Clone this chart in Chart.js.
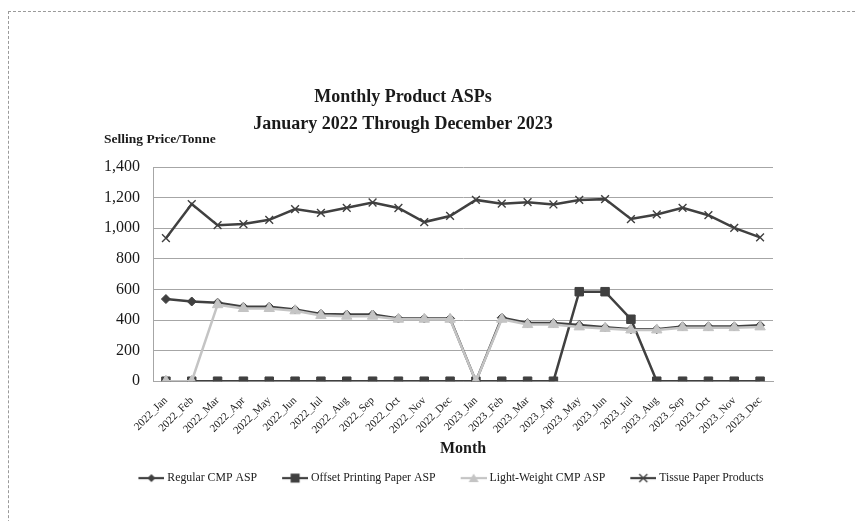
<!DOCTYPE html>
<html>
<head>
<meta charset="utf-8">
<script src="https://cdn.jsdelivr.net/npm/chart.js@4/dist/chart.umd.min.js"></script>
<style>
  html, body { margin: 0; padding: 0; background: #fff; overflow: hidden; }
  #wrap { position: relative; width: 855px; height: 521px; }
  #frame {
    position: absolute; left: 8px; top: 11px; width: 900px; height: 600px;
    border: 1px dashed #9a9a9a; pointer-events: none;
  }
  canvas { position: absolute; left: 0; top: 0; }
</style>
</head>
<body>
<div id="wrap">
  <canvas id="aspChart" width="855" height="521"></canvas>
  <div id="frame"></div>
</div>
<script>
// ------------------------------
// DATA
// ------------------------------

const months = [
  "2022_Jan", "2022_Feb", "2022_Mar", "2022_Apr", "2022_May", "2022_Jun",
  "2022_Jul", "2022_Aug", "2022_Sep", "2022_Oct", "2022_Nov", "2022_Dec",
  "2023_Jan", "2023_Feb", "2023_Mar", "2023_Apr", "2023_May", "2023_Jun",
  "2023_Jul", "2023_Aug", "2023_Sep", "2023_Oct", "2023_Nov", "2023_Dec"
];

const regularCmp = [537, 521, 513, 486, 486, 469, 440, 436, 436, 410, 410, 410,
  0, 415, 380, 380, 367, 352, 339, 340, 358, 358, 358, 365];

const offsetPrinting = [0, 0, 0, 0, 0, 0, 0, 0, 0, 0, 0, 0,
  0, 0, 0, 0, 585, 585, 405, 0, 0, 0, 0, 0];

const lightWeightCmp = [0, 0, 500, 475, 475, 460, 430, 425, 425, 405, 405, 405,
  0, 405, 370, 370, 355, 345, 335, 335, 350, 350, 350, 355];

const tissuePaper = [935, 1158, 1020, 1027, 1055, 1125, 1100, 1133, 1168, 1132, 1040, 1080,
  1185, 1160, 1170, 1155, 1185, 1190, 1060, 1090, 1133, 1085, 1002, 940];

const yTicksMax = 1400;
const yTickStep = 200;

const titleLines = ["Monthly Product ASPs", "January 2022 Through December 2023"];
const yTitle = "Selling Price/Tonne";
const xTitle = "Month";

// ------------------------------
// STYLE
// ------------------------------

const FONT = '"Liberation Serif", "Times New Roman", serif';
const TEXT = "#1a1a1a";
const DARK = "#404040";
const LIGHT = "#c4c4c4";
const GRID = "#a6a6a6";

// legend icon: blank lead-in, then a short line with the marker in the middle
function legendIcon(color, marker) {
  const c = document.createElement("canvas");
  c.width = 54;
  c.height = 12;
  const g = c.getContext("2d");
  const x0 = 28;
  const mid = x0 + 13;
  g.strokeStyle = color;
  g.fillStyle = color;
  g.lineWidth = 2.2;
  g.beginPath();
  g.moveTo(x0, 6);
  g.lineTo(x0 + 26, 6);
  g.stroke();
  g.beginPath();
  if (marker === "diamond") {
    g.moveTo(mid, 2); g.lineTo(mid + 4, 6); g.lineTo(mid, 10); g.lineTo(mid - 4, 6); g.closePath(); g.fill();
  } else if (marker === "square") {
    g.fillRect(mid - 4.5, 1.5, 9, 9);
  } else if (marker === "triangle") {
    g.moveTo(mid, 1.5); g.lineTo(mid + 5, 10); g.lineTo(mid - 5, 10); g.closePath(); g.fill();
  } else if (marker === "cross") {
    g.lineWidth = 1.4;
    g.moveTo(mid - 4, 2); g.lineTo(mid + 4, 10); g.moveTo(mid + 4, 2); g.lineTo(mid - 4, 10); g.stroke();
  }
  return c;
}

const seriesDefs = [
  { label: "Regular CMP ASP", data: regularCmp, color: DARK, style: "rectRot", radius: 4.5, icon: "diamond", order: 4 },
  { label: "Offset Printing Paper ASP", data: offsetPrinting, color: DARK, style: "rect", radius: 6, icon: "square", order: 3 },
  { label: "Light-Weight CMP ASP", data: lightWeightCmp, color: LIGHT, style: "triangle", radius: 6, icon: "triangle", order: 2 },
  { label: "Tissue Paper Products", data: tissuePaper, color: DARK, style: "crossRot", radius: 5.5, icon: "cross", order: 1 }
];

// chart title and the horizontal y-axis caption sit off-centre in the original
const headerText = {
  id: "headerText",
  afterDraw(chart) {
    const { ctx, chartArea } = chart;
    ctx.save();
    ctx.fillStyle = TEXT;
    ctx.textBaseline = "middle";

    ctx.textAlign = "center";
    ctx.font = "bold 18px " + FONT;
    ctx.fillText(titleLines[0], chartArea.left + 250, chartArea.top - 70);
    ctx.fillText(titleLines[1], chartArea.left + 250, chartArea.top - 43);

    ctx.textAlign = "left";
    ctx.font = "bold 13.5px " + FONT;
    ctx.fillText(yTitle, chartArea.left - 49, chartArea.top - 27);
    ctx.restore();
  }
};

new Chart(document.getElementById("aspChart"), {
  type: "line",
  data: {
    labels: months,
    datasets: seriesDefs.map((s) => ({
      label: s.label,
      data: s.data,
      borderColor: s.color,
      backgroundColor: s.color,
      borderWidth: 2.5,
      pointStyle: s.style,
      pointRadius: s.radius,
      pointBorderColor: s.color,
      pointBackgroundColor: s.color,
      pointBorderWidth: s.style === "crossRot" ? 1.4 : 1,
      order: s.order,
      tension: 0
    }))
  },
  options: {
    responsive: false,
    animation: false,
    layout: { padding: { left: 104, right: 82, top: 167, bottom: 27 } },
    plugins: {
      title: { display: false },
      legend: {
        position: "bottom",
        labels: {
          usePointStyle: true,
          pointStyleWidth: 48,
          color: TEXT,
          font: { family: FONT, size: 11.8 },
          padding: 0,
          generateLabels(chart) {
            return chart.data.datasets.map((ds, i) => ({
              text: ds.label,
              pointStyle: legendIcon(seriesDefs[i].color, seriesDefs[i].icon),
              fillStyle: ds.borderColor,
              strokeStyle: ds.borderColor,
              lineWidth: 0,
              fontColor: TEXT,
              datasetIndex: i,
              hidden: !chart.isDatasetVisible(i)
            }));
          }
        }
      },
      tooltip: { enabled: false }
    },
    scales: {
      x: {
        offset: true,
        afterFit(scale) { scale.height = 91; },
        grid: { display: false, drawTicks: false },
        border: { color: GRID, width: 1 },
        ticks: {
          color: TEXT,
          font: { family: FONT, size: 11 },
          minRotation: 45,
          maxRotation: 45,
          padding: 13,
          autoSkip: false
        },
        title: {
          display: true,
          text: xTitle,
          color: TEXT,
          font: { family: FONT, size: 16, weight: "bold" },
          padding: { top: 3, bottom: 14 }
        }
      },
      y: {
        min: 0,
        max: yTicksMax,
        afterFit(scale) { scale.width = 49; },
        grid: { color: GRID, lineWidth: 1, drawTicks: false },
        border: { color: GRID, width: 1 },
        ticks: {
          stepSize: yTickStep,
          color: TEXT,
          padding: 13,
          font: { family: FONT, size: 16 },
          callback(value) { return value.toLocaleString("en-US"); }
        }
      }
    }
  },
  plugins: [headerText]
});
</script>
</body>
</html>
